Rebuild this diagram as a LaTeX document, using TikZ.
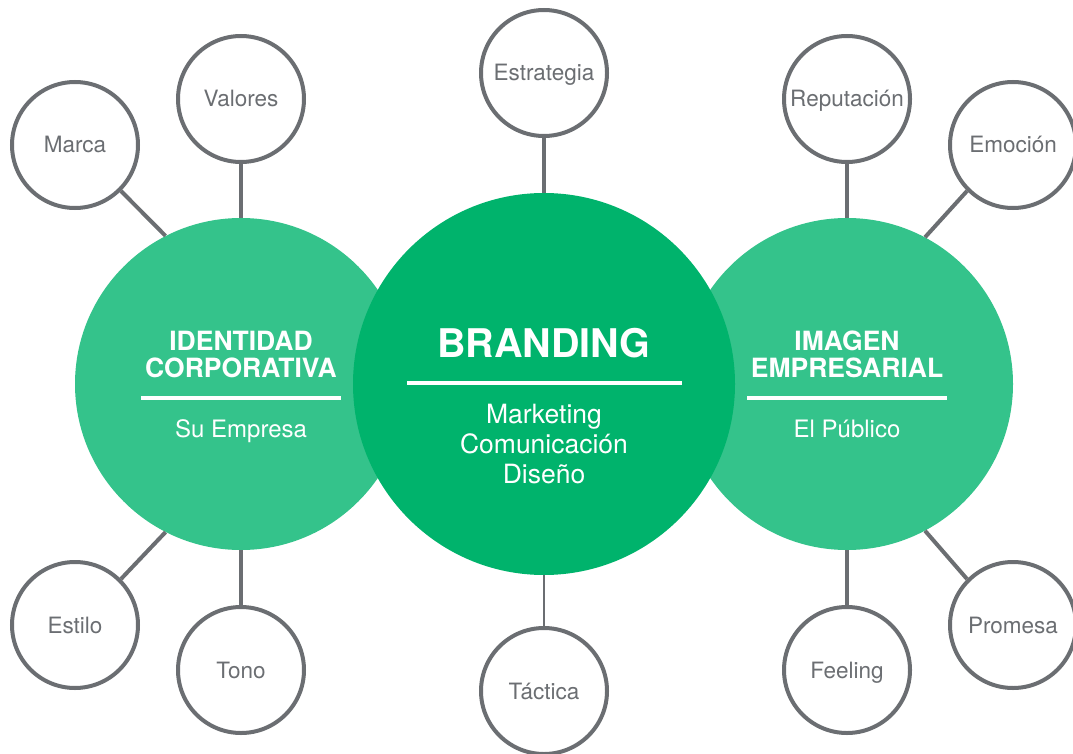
\documentclass[tikz,border=0pt]{standalone}
\usepackage{fontspec}
\setmainfont{TeX Gyre Heros}
\definecolor{leafgreen}{HTML}{34C38B}
\definecolor{brandgreen}{HTML}{00B36C}
\definecolor{ringgray}{HTML}{6B6E72}
\tikzset{
  bubble/.style={circle, draw=ringgray, line width=4pt, fill=white, inner sep=0pt,
    minimum size=126pt, text=ringgray, text height=16pt, text depth=0pt,
    font=\fontsize{22.5}{26}\selectfont},
  sidecircle/.style={circle, fill=leafgreen, inner sep=0pt, minimum size=332pt},
  hubcircle/.style={circle, fill=brandgreen, inner sep=0pt, minimum size=382pt},
  link/.style={draw=ringgray, line width=4pt},
  thinlink/.style={draw=ringgray, line width=2pt},
  title/.style={anchor=base, text=white, inner sep=0pt, font=\bfseries\fontsize{26.5}{28}\selectfont},
  hubtitle/.style={anchor=base, text=white, inner sep=0pt, font=\bfseries\fontsize{39.5}{42}\selectfont},
  subline/.style={anchor=base, text=white, inner sep=0pt, font=\fontsize{24}{28}\selectfont},
  hubline/.style={subline, font=\fontsize{26.5}{30}\selectfont},
  rule/.style={white, line width=4pt}
}
\begin{document}
\begin{tikzpicture}[x=1pt, y=-1pt]
\useasboundingbox (0,0) rectangle (1073,754);

% Big circles
\node[sidecircle] (ident) at (241,384) {};
\node[sidecircle] (image) at (847,384) {};
\node[hubcircle] (brand) at (544,384) {};

% Small circles
\node[bubble] (marca) at (75,145) {Marca};
\node[bubble] (valores) at (241,99) {Valores};
\node[bubble] (estilo) at (75,625) {Estilo};
\node[bubble] (tono) at (241,670) {Tono};
\node[bubble] (estrategia) at (544,73) {Estrategia};
\node[bubble] (tactica) at (544,691) {Táctica};
\node[bubble] (reputacion) at (847,99) {Reputación};
\node[bubble] (emocion) at (1013,145) {Emoción};
\node[bubble] (feeling) at (847,670) {Feeling};
\node[bubble] (promesa) at (1013,625) {Promesa};

% Links
\draw[link] (marca.south east) -- (ident.117.5);
\draw[link] (valores.south) -- (ident.north);
\draw[link] (estilo.north east) -- (ident.-117.5);
\draw[link] (tono.north) -- (ident.south);
\draw[link] (estrategia.south) -- (brand.north);
\draw[thinlink] (brand.south) -- (tactica.north);
\draw[link] (reputacion.south) -- (image.north);
\draw[link] (emocion.south west) -- (image.62.5);
\draw[link] (feeling.north) -- (image.south);
\draw[link] (promesa.north west) -- (image.-62.5);

% Identidad corporativa
\node[title] (idone) at (241,350) {IDENTIDAD};
\node[title] (idtwo) at (241,377) {CORPORATIVA};
\draw[rule] (141,398) -- (341,398);
\node[subline] (idsub) at (241,437) {Su Empresa};

% Branding
\node[hubtitle] (brandtitle) at (544,357) {BRANDING};
\draw[rule] (407,383) -- (682,383);
\node[hubline] (brandone) at (544,423) {Marketing};
\node[hubline] (brandtwo) at (544,453) {Comunicación};
\node[hubline] (brandthree) at (544,483) {Diseño};

% Imagen empresarial
\node[title] (imone) at (847,350) {IMAGEN};
\node[title] (imtwo) at (847,377) {EMPRESARIAL};
\draw[rule] (747,398) -- (947,398);
\node[subline] (imsub) at (847,437) {El Público};
\end{tikzpicture}
\end{document}
